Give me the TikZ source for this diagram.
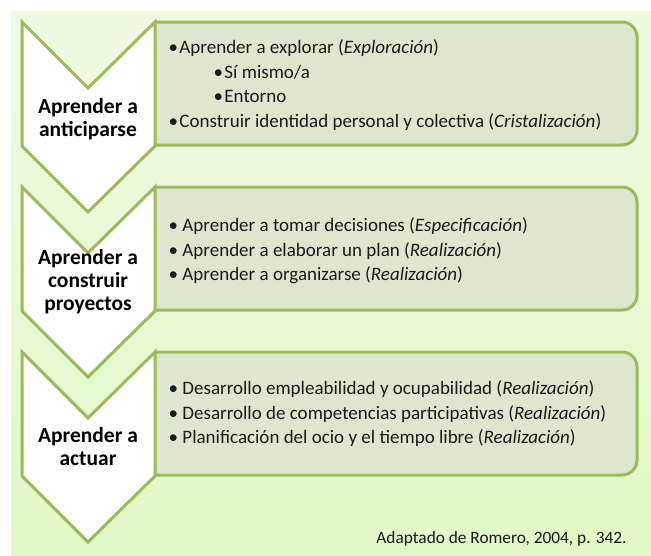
\documentclass[tikz,border=0pt]{standalone}
\usepackage{fontspec}
\setmainfont{Carlito}
\usepackage{tikz}

\definecolor{frame}{HTML}{9BBB59}
\definecolor{boxfill}{HTML}{DEE6D0}
\definecolor{bgtop}{HTML}{EFFAE2}
\definecolor{bgbot}{HTML}{E1F8C6}
\definecolor{ink}{HTML}{1A1A1A}

\begin{document}
\begin{tikzpicture}[x=1pt,y=-1pt,line width=3pt,line join=miter]
	\tikzstyle{backdrop}=[top color=bgtop,bottom color=bgbot]
	\tikzstyle{stage}=[draw=frame,fill=white]
	\tikzstyle{panel}=[draw=frame,fill=boxfill,rounded corners=15pt]
	\tikzstyle{stage label}=[align=center,font=\fontsize{21.5}{23}\selectfont\bfseries,text=black,inner sep=0pt]
	\tikzstyle{panel text}=[align=left,anchor=west,font=\fontsize{19}{24.5}\selectfont,text=ink,inner sep=0pt]
	
	\useasboundingbox (0,0) rectangle (651,555);
	
	% Draw the background
	\fill[backdrop] (11,11) rectangle (651,555);
	
	% Draw the panels
	\foreach \name / \y in {1/22,2/187,3/352}
	\filldraw[panel] (155,\y) -- (637,\y) -- (637,\y+123) -- (155,\y+123);
	
	% Draw the stages
	\foreach \name / \y in {1/22,2/187,3/352}
	\filldraw[stage] (22,\y) -- (88,\y+66) -- (155,\y) -- (155,\y+124) -- (88,\y+190) -- (22,\y+124) -- cycle;
	
	% Label the stages
	\node[stage label] (S-1) at (88,119) {Aprender a\\anticiparse};
	\node[stage label] (S-2) at (88,282) {Aprender a\\construir\\proyectos};
	\node[stage label] (S-3) at (88,447) {Aprender a\\actuar};
	
	% Fill the panels
	\node[panel text] (T-1) at (167,85) {\textbullet\hspace{1.5pt}Aprender a explorar (\textit{Exploración})\\
		\hspace*{45pt}\textbullet\hspace{1.5pt}Sí mismo/a\\
		\hspace*{45pt}\textbullet\hspace{1.5pt}Entorno\\
		\textbullet\hspace{1.5pt}Construir identidad personal y colectiva (\textit{Cristalización})};
	\node[panel text] (T-2) at (167,251) {\textbullet\hspace{4.5pt}Aprender a tomar decisiones (\textit{Especificación})\\
		\textbullet\hspace{4.5pt}Aprender a elaborar un plan (\textit{Realización})\\
		\textbullet\hspace{4.5pt}Aprender a organizarse (\textit{Realización})};
	\node[panel text] (T-3) at (167,414) {\textbullet\hspace{4.5pt}Desarrollo empleabilidad y ocupabilidad (\textit{Realización})\\
		\textbullet\hspace{4.5pt}Desarrollo de competencias participativas (\textit{Realización})\\
		\textbullet\hspace{4.5pt}Planificación del ocio y el tiempo libre (\textit{Realización})};
	
	% Source
	\node[font=\fontsize{17.3}{20}\selectfont,text=ink,anchor=base east,inner sep=0pt] (src) at (628,543) {Adaptado de Romero, 2004, p. 342.};
	
\end{tikzpicture}
\end{document}
